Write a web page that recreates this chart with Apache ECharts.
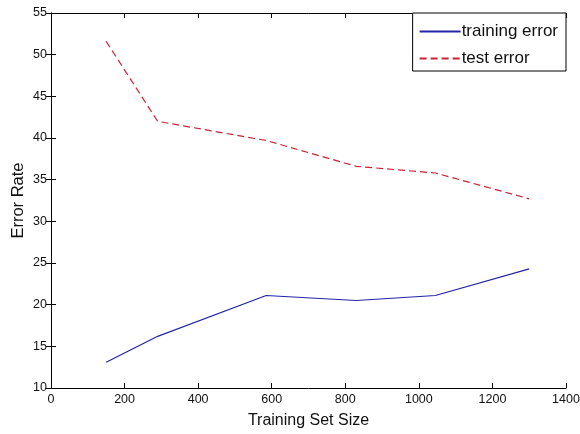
<!DOCTYPE html>
<html>
<head>
<meta charset="utf-8">
<script src="https://cdn.jsdelivr.net/npm/echarts@6/dist/echarts.min.js"></script>
<style>
  html, body { margin: 0; padding: 0; background: #fff; }
  #chart { width: 580px; height: 434px; }
</style>
</head>
<body>
<div id="chart"></div>
<script>
// data
var sizes = [150, 290, 585, 830, 1045, 1300];
var trainError = [13.1, 16.2, 21.1, 20.5, 21.1, 24.3];
var testError = [51.6, 42.0, 39.7, 36.6, 35.8, 32.7];
var seriesNames = ['training error', 'test error'];

function pairs(xs, ys) {
  return xs.map(function (x, i) { return [x, ys[i]]; });
}

var tickFont = { fontFamily: 'Liberation Sans', fontSize: 12.5, color: '#111', formatter: function (v) { return String(v); } };
var frame = { show: true, lineStyle: { color: '#000', width: 1 } };
var innerTicks = { show: true, inside: true, length: 5, lineStyle: { color: '#000' } };

var myChart = echarts.init(document.getElementById('chart'));
myChart.setOption({
  animation: false,
  backgroundColor: '#fff',
  grid: { left: 51, right: 14, top: 13, bottom: 46, containLabel: false, outerBoundsMode: 'none' },
  legend: {
    data: seriesNames,
    orient: 'vertical',
    right: 14,
    top: 13,
    backgroundColor: '#fff',
    borderColor: '#000',
    borderWidth: 1,
    borderRadius: 0,
    padding: [10, 8, 4, 6],
    itemGap: 10,
    itemWidth: 41,
    itemHeight: 14,
    itemStyle: { color: 'transparent', borderWidth: 0, opacity: 0 },
    textStyle: { fontFamily: 'Liberation Sans', fontSize: 17, lineHeight: 17, color: '#111', padding: [0, 0, 0, -4] }
  },
  xAxis: [{
    type: 'value',
    min: 0, max: 1400, interval: 200,
    name: 'Training Set Size',
    nameLocation: 'middle',
    nameGap: 25,
    nameTextStyle: { fontFamily: 'Liberation Sans', fontSize: 16, color: '#111' },
    axisLine: frame,
    axisTick: innerTicks,
    axisLabel: Object.assign({ margin: 5 }, tickFont),
    splitLine: { show: false }
  }, {
    type: 'value',
    position: 'top',
    min: 0, max: 1400, interval: 200,
    axisLine: frame,
    axisTick: innerTicks,
    axisLabel: { show: false },
    splitLine: { show: false }
  }],
  yAxis: [{
    type: 'value',
    min: 10, max: 55, interval: 5,
    name: 'Error Rate',
    nameLocation: 'middle',
    nameGap: 24,
    nameMoveOverlap: false,
    nameTextStyle: { fontFamily: 'Liberation Sans', fontSize: 16.5, color: '#111' },
    axisLine: frame,
    axisTick: innerTicks,
    axisLabel: Object.assign({ margin: 4 }, tickFont),
    splitLine: { show: false }
  }, {
    type: 'value',
    position: 'right',
    min: 10, max: 55, interval: 5,
    axisLine: frame,
    axisTick: innerTicks,
    axisLabel: { show: false },
    splitLine: { show: false }
  }],
  series: [{
    name: seriesNames[0],
    type: 'line',
    data: pairs(sizes, trainError),
    symbol: 'none',
    color: '#2424a8',
    lineStyle: { width: 1.2, color: '#2424a8' }
  }, {
    name: seriesNames[1],
    type: 'line',
    data: pairs(sizes, testError),
    symbol: 'none',
    color: '#cc2233',
    lineStyle: { width: 1.2, color: '#cc2233', type: [7, 4] }
  }]
});
</script>
</body>
</html>
